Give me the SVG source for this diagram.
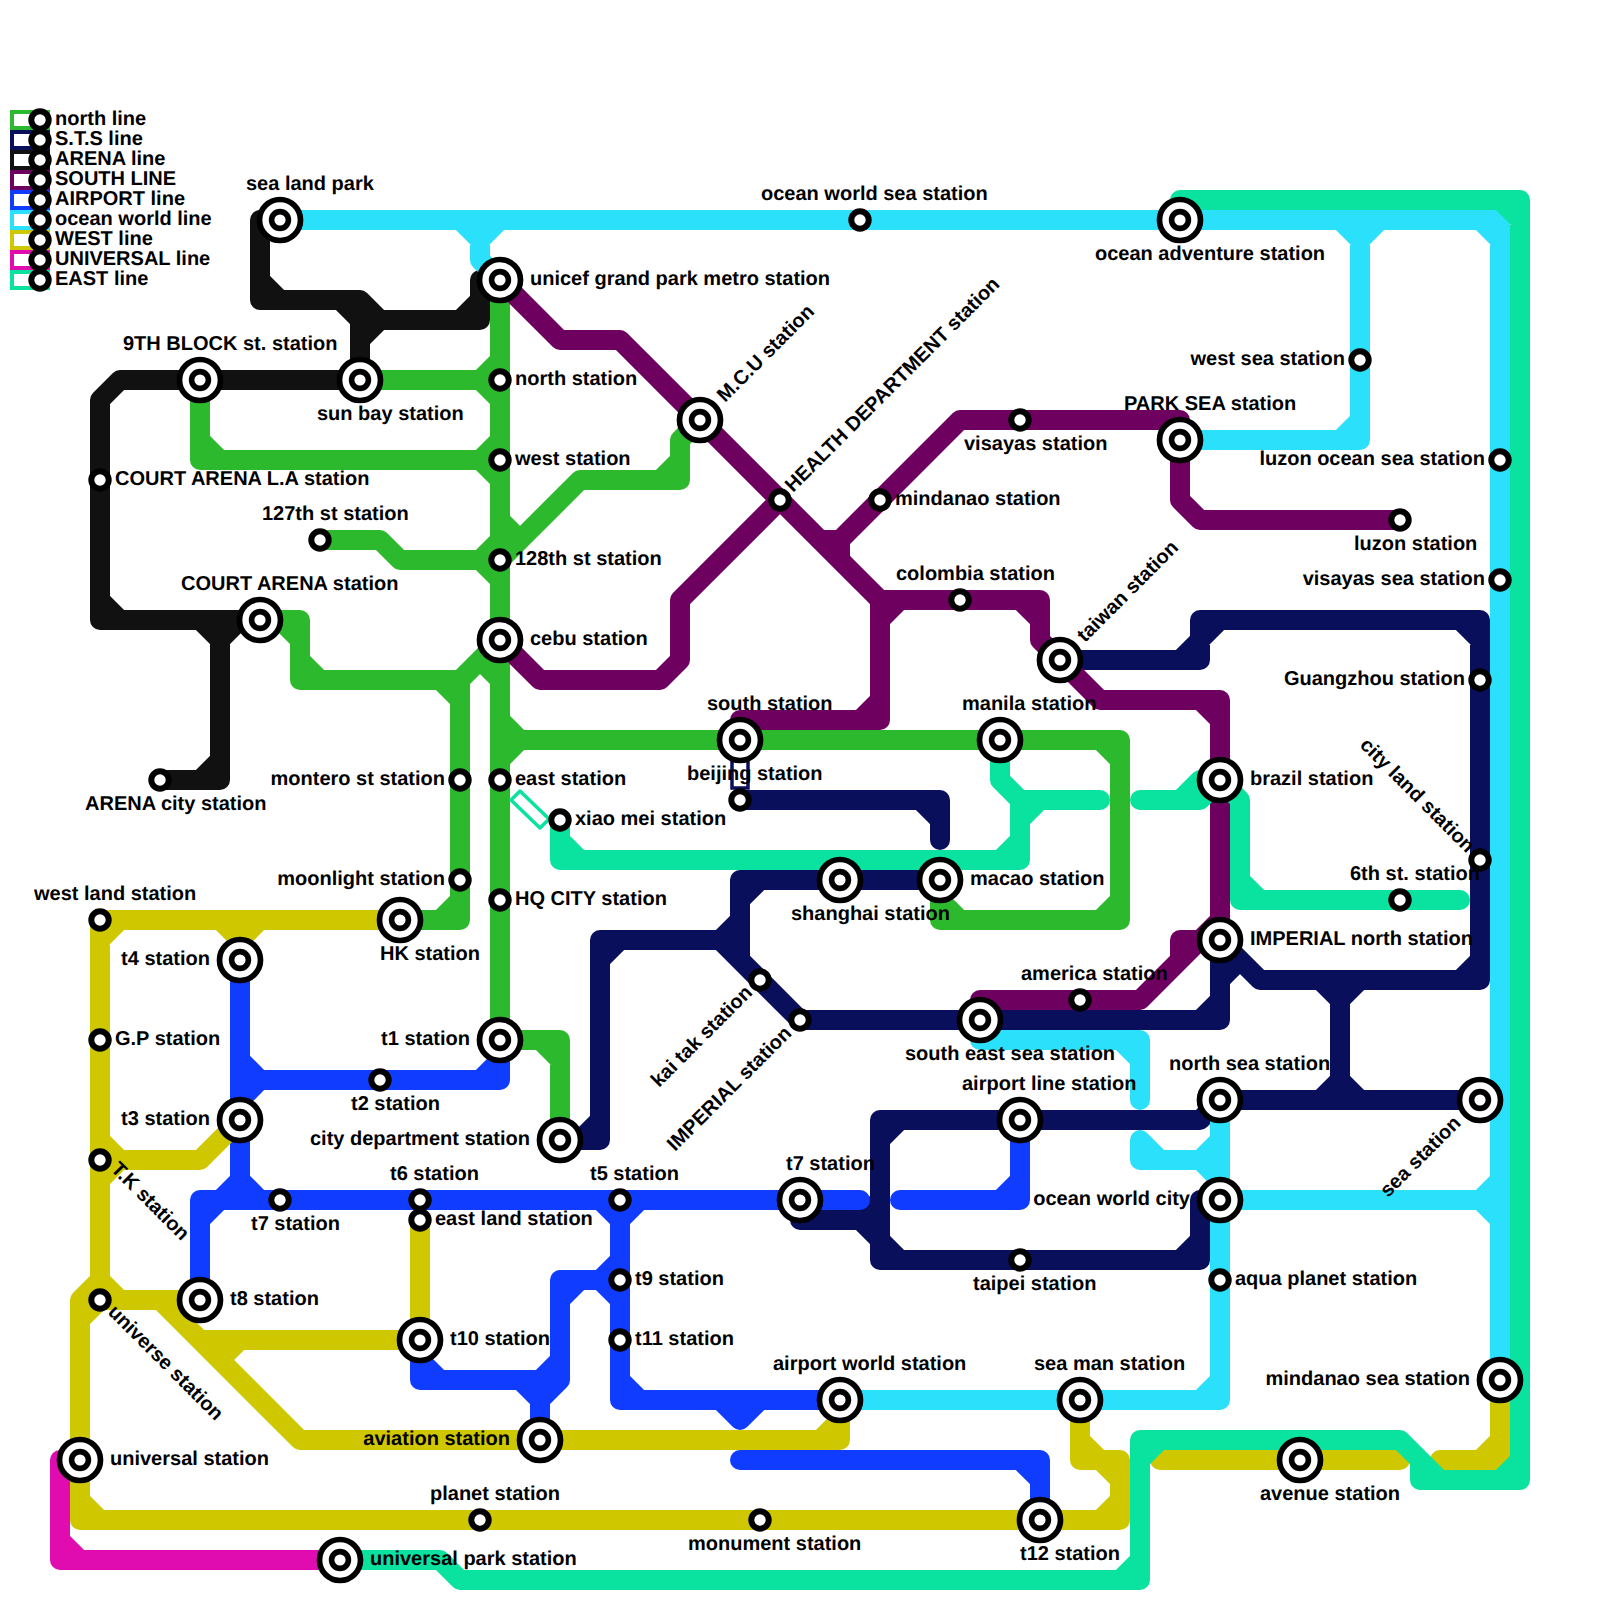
<svg xmlns="http://www.w3.org/2000/svg" width="1600" height="1600" viewBox="0 0 1600 1600">
<style>
.l{fill:none;stroke-width:20;stroke-linecap:round;stroke-linejoin:round}
text{font-family:"Liberation Sans",Arial,sans-serif;font-weight:bold;font-size:20px;fill:#000;text-rendering:geometricPrecision}
.e{text-anchor:end}
.k{fill:#fff;stroke-width:4}
</style>
<defs>
<g id="s"><circle r="8.7" fill="#fff" stroke="#000" stroke-width="6"/></g>
<g id="x"><circle r="20.5" fill="#fff" stroke="#000" stroke-width="5.7"/><circle r="8.4" fill="#fff" stroke="#000" stroke-width="5.6"/></g>
</defs>
<rect width="1600" height="1600" fill="#fff"/>
<g id="legend">
<rect class="k" x="12" y="112" width="36" height="16" stroke="#2db92d"/>
<rect class="k" x="12" y="132" width="36" height="16" stroke="#0a0f5c"/>
<rect class="k" x="12" y="152" width="36" height="16" stroke="#111"/>
<rect class="k" x="12" y="172" width="36" height="16" stroke="#6e0060"/>
<rect class="k" x="12" y="192" width="36" height="16" stroke="#0f3cff"/>
<rect class="k" x="12" y="212" width="36" height="16" stroke="#2ae0fa"/>
<rect class="k" x="12" y="232" width="36" height="16" stroke="#cfc700"/>
<rect class="k" x="12" y="252" width="36" height="16" stroke="#e00cb0"/>
<rect class="k" x="12" y="272" width="36" height="16" stroke="#0ae2a0"/>
<use href="#s" x="40" y="120"/><use href="#s" x="40" y="140"/><use href="#s" x="40" y="160"/><use href="#s" x="40" y="180"/><use href="#s" x="40" y="200"/><use href="#s" x="40" y="220"/><use href="#s" x="40" y="240"/><use href="#s" x="40" y="260"/><use href="#s" x="40" y="280"/>
<text x="55" y="125">north line</text><text x="55" y="145">S.T.S line</text><text x="55" y="165">ARENA line</text><text x="55" y="185">SOUTH LINE</text><text x="55" y="205">AIRPORT line</text><text x="55" y="225">ocean world line</text><text x="55" y="245">WEST line</text><text x="55" y="265">UNIVERSAL line</text><text x="55" y="285">EAST line</text>
</g>
<g id="connectors">
<path id="north-line" class="l" stroke="#2db92d" d="M360 380H480L500 360M480 380L500 400M200 380V460H480L500 440M480 460L500 480M200 440L220 460M320 540H380L400 560H480L500 540M480 560L500 580M500 520L520 540L580 480H680V440L700 420M500 560L520 540M660 480L680 460M500 280V1040H560V1140M540 1040L560 1060M260 620H300V680H460V920H400M280 620L300 640M300 660L320 680M440 920L460 900M460 680L500 640M480 660L500 680M440 680L460 700M500 720L520 740H1120V920H940V880M500 760L520 740M1100 740L1120 760M1120 900L1100 920M940 900L960 920"/>
<path id="sts-line" class="l" stroke="#0a0f5c" d="M1060 660H1200V620H1480V980H1260L1220 940V1020H800L720 940H600V1140H560M1180 660L1200 640M1200 640L1220 620M1460 620L1480 640M1480 960L1460 980M1220 980L1240 960M1200 1020L1220 1000M600 960L620 940M580 1140L600 1120M940 880H740V960M740 900L760 880M740 920L720 940M1340 980V1100M1320 980L1340 1000M1360 980L1340 1000M1340 1080L1320 1100M1340 1080L1360 1100M1220 1100H1480M1220 1100L1200 1120H880V1260H1200V1200H1220M880 1140L900 1120M880 1240L900 1260M1180 1260L1200 1240M800 1200V1220H860L880 1240M860 1220L880 1200M740 800H940V840M920 800L940 820"/>
<rect x="732" y="750" width="16" height="38" fill="#fff" stroke="#0a0f5c" stroke-width="3.5"/>
<path id="arena-line" class="l" stroke="#111" d="M360 380H120L100 400V620H200L220 640V780H160M100 600L120 620M260 620H200M240 620L220 640M220 760L200 780M280 220H260V300H360L380 320H480V280H500M260 280L280 300M340 300L360 320V380M360 340L380 320M460 320L480 300"/>
<path id="south-line" class="l" stroke="#6e0060" d="M500 280L560 340H620L880 600H1040V640L1100 700H1220V940M1020 600L1040 620M1200 700L1220 720M880 620L900 600M880 600V720H740V740M860 720L880 700M500 640L540 680H660L680 660V600L780 500M820 540H840L960 420H1180V500L1200 520H1400M840 540V560M980 1000H1140L1220 920M1180 960V940H1220"/>
<path id="airport-line" class="l" stroke="#0f3cff" d="M240 960V1180L260 1200H860M240 1180L220 1200M200 1300V1200H260M200 1220L220 1200M500 1040V1080H260L240 1060M260 1080L240 1100M480 1080L500 1060M600 1200L620 1220M640 1200L620 1220M620 1200V1400H840M620 1380L640 1400M720 1400L740 1420L760 1400M560 1280H600L620 1260M600 1280L620 1300M560 1280V1380L540 1400V1440M560 1300L580 1280M540 1380L560 1360M420 1340V1380H540M420 1360L440 1380M520 1380L540 1400M740 1460H1040V1520M1020 1460L1040 1480M900 1200H1020V1120M1000 1200L1020 1180"/>
<path id="ocean-line" class="l" stroke="#2ae0fa" d="M280 220H1500V1380M1480 220L1500 240M460 220L480 240L500 220M480 240V260L500 280M1340 220L1360 240L1380 220M1360 240V440H1180M1340 440L1360 420M1220 1200H1500M1480 1200L1500 1180M1480 1200L1500 1220M1220 1100V1400H840M1200 1400L1220 1380M1140 1140V1160H1200L1220 1140M1140 1140L1160 1160M1200 1160L1220 1180M980 1020V1040H1140V1100M1120 1040L1140 1060"/>
<path id="west-line" class="l" stroke="#cfc700" d="M400 920H100V1280L80 1300V1520H1120V1460H1080V1400M100 940L120 920M220 920L240 940L260 920M240 940V960M100 1140L120 1160H200L240 1120M100 1180L120 1160M100 1280L120 1300M100 1300L80 1320M100 1300H200M160 1300L300 1440H840V1400M200 1340H420M220 1360L240 1340M820 1440L840 1420M420 1220V1340M80 1500L100 1520M1120 1500L1100 1520M1080 1440L1100 1460M1100 1460L1120 1480M1160 1460H1400M1500 1380V1460H1440M1480 1460L1500 1440"/>
<path id="universal-line" class="l" stroke="#e00cb0" d="M80 1460H60V1560H340M60 1540L80 1560"/>
<path id="east-line" class="l" stroke="#0ae2a0" d="M1180 220V200H1520V1480H1420V1460L1400 1440H1140V1580H460L440 1560H340M1500 200L1520 220M1500 1480L1520 1460M1420 1460L1440 1480M1140 1460L1160 1440M1120 1580L1140 1560M1000 740V780L1020 800H1100M1020 800V860H560V820M1000 860L1020 840M1020 820L1040 800M560 840L580 860M1220 780L1200 800H1140M1180 800L1200 780H1220M1220 780L1240 800V900H1460M1240 880L1260 900"/>
<path id="east-tunnel" d="M511 800L520 791L549 819L540 828Z" fill="#fff" stroke="#0ae2a0" stroke-width="3.5" stroke-linejoin="round"/>
</g>
<g id="n1"><use href="#x" x="280" y="220"/><text x="246" y="190">sea land park</text></g>
<g id="n2"><use href="#s" x="860" y="220"/><text x="761" y="200">ocean world sea station</text></g>
<g id="n3"><use href="#x" x="1180" y="220"/><text x="1095" y="260">ocean adventure station</text></g>
<g id="n4"><use href="#x" x="500" y="280"/><text x="530" y="285">unicef grand park metro station</text></g>
<g id="n5"><use href="#x" x="200" y="380"/><text x="123" y="350">9TH BLOCK st. station</text></g>
<g id="n6"><use href="#x" x="360" y="380"/><text x="317" y="420">sun bay station</text></g>
<g id="n7"><use href="#s" x="500" y="380"/><text x="515" y="385">north station</text></g>
<g id="n8"><use href="#s" x="500" y="460"/><text x="515" y="465">west station</text></g>
<g id="n9"><use href="#s" x="500" y="560"/><text x="515" y="565">128th st station</text></g>
<g id="n10"><use href="#x" x="500" y="640"/><text x="530" y="645">cebu station</text></g>
<g id="n11"><use href="#s" x="320" y="540"/><text x="262" y="520">127th st station</text></g>
<g id="n12"><use href="#s" x="100" y="480"/><text x="115" y="485">COURT ARENA L.A station</text></g>
<g id="n13"><use href="#x" x="260" y="620"/><text x="181" y="590">COURT ARENA station</text></g>
<g id="n14"><use href="#s" x="160" y="780"/><text x="85" y="810">ARENA city station</text></g>
<g id="n15"><use href="#x" x="700" y="420"/><text transform="translate(725 403) rotate(-45)">M.C.U station</text></g>
<g id="n16"><use href="#s" x="780" y="500"/><text transform="translate(793 493) rotate(-45)">HEALTH DEPARTMENT station</text></g>
<g id="n17"><use href="#s" x="880" y="500"/><text x="895" y="505">mindanao station</text></g>
<g id="n18"><use href="#s" x="1020" y="420"/><text x="964" y="450">visayas station</text></g>
<g id="n19"><use href="#x" x="1180" y="440"/><text x="1124" y="410">PARK SEA station</text></g>
<g id="n20"><use href="#s" x="1400" y="520"/><text x="1354" y="550">luzon station</text></g>
<g id="n21"><use href="#s" x="1360" y="360"/><text class="e" x="1345" y="365">west sea station</text></g>
<g id="n22"><use href="#s" x="1500" y="460"/><text class="e" x="1485" y="465">luzon ocean sea station</text></g>
<g id="n23"><use href="#s" x="1500" y="580"/><text class="e" x="1485" y="585">visayas sea station</text></g>
<g id="n24"><use href="#s" x="960" y="600"/><text x="896" y="580">colombia station</text></g>
<g id="n25"><use href="#x" x="1060" y="660"/><text transform="translate(1085 643) rotate(-45)">taiwan station</text></g>
<g id="n26"><use href="#x" x="740" y="740"/><text x="707" y="710">south station</text></g>
<g id="n27"><use href="#x" x="1000" y="740"/><text x="962" y="710">manila station</text></g>
<g id="n28"><use href="#x" x="1220" y="780"/><text x="1250" y="785">brazil station</text></g>
<g id="n29"><use href="#s" x="1480" y="680"/><text class="e" x="1465" y="685">Guangzhou station</text></g>
<g id="n30"><use href="#s" x="1480" y="860"/><text transform="translate(1359 746) rotate(45)">city land station</text></g>
<g id="n31"><use href="#s" x="1400" y="900"/><text x="1350" y="880">6th st. station</text></g>
<g id="n32"><use href="#x" x="1220" y="940"/><text x="1250" y="945">IMPERIAL north station</text></g>
<g id="n33"><use href="#s" x="1080" y="1000"/><text x="1021" y="980">america station</text></g>
<g id="n34"><use href="#x" x="980" y="1020"/><text x="905" y="1060">south east sea station</text></g>
<g id="n35"><use href="#x" x="1220" y="1100"/><text x="1169" y="1070">north sea station</text></g>
<g id="n36"><use href="#x" x="1480" y="1100"/><text transform="translate(1388 1198) rotate(-45)">sea station</text></g>
<g id="n37"><use href="#x" x="1020" y="1120"/><text x="962" y="1090">airport line station</text></g>
<g id="n38"><use href="#x" x="1220" y="1200"/><text class="e" x="1190" y="1205">ocean world city</text></g>
<g id="n39"><use href="#s" x="1020" y="1260"/><text x="973" y="1290">taipei station</text></g>
<g id="n40"><use href="#s" x="1220" y="1280"/><text x="1235" y="1285">aqua planet station</text></g>
<g id="n41"><use href="#x" x="800" y="1200"/><text x="786" y="1170">t7 station</text></g>
<g id="n42"><use href="#x" x="1500" y="1380"/><text class="e" x="1470" y="1385">mindanao sea station</text></g>
<g id="n43"><use href="#x" x="1300" y="1460"/><text x="1260" y="1500">avenue station</text></g>
<g id="n44"><use href="#x" x="1080" y="1400"/><text x="1034" y="1370">sea man station</text></g>
<g id="n45"><use href="#x" x="840" y="1400"/><text x="773" y="1370">airport world station</text></g>
<g id="n46"><use href="#x" x="1040" y="1520"/><text x="1020" y="1560">t12 station</text></g>
<g id="n47"><use href="#s" x="760" y="1520"/><text x="688" y="1550">monument station</text></g>
<g id="n48"><use href="#s" x="480" y="1520"/><text x="430" y="1500">planet station</text></g>
<g id="n49"><use href="#x" x="340" y="1560"/><text x="370" y="1565">universal park station</text></g>
<g id="n50"><use href="#x" x="80" y="1460"/><text x="110" y="1465">universal station</text></g>
<g id="n51"><use href="#x" x="540" y="1440"/><text class="e" x="510" y="1445">aviation station</text></g>
<g id="n52"><use href="#x" x="420" y="1340"/><text x="450" y="1345">t10 station</text></g>
<g id="n53"><use href="#s" x="620" y="1340"/><text x="635" y="1345">t11 station</text></g>
<g id="n54"><use href="#s" x="620" y="1280"/><text x="635" y="1285">t9 station</text></g>
<g id="n55"><use href="#s" x="620" y="1200"/><text x="590" y="1180">t5 station</text></g>
<g id="n56"><use href="#s" x="420" y="1200"/><text x="390" y="1180">t6 station</text></g>
<g id="n57"><use href="#s" x="420" y="1220"/><text x="435" y="1225">east land station</text></g>
<g id="n58"><use href="#s" x="280" y="1200"/><text x="251" y="1230">t7 station</text></g>
<g id="n59"><use href="#x" x="200" y="1300"/><text x="230" y="1305">t8 station</text></g>
<g id="n60"><use href="#x" x="240" y="1120"/><text class="e" x="210" y="1125">t3 station</text></g>
<g id="n61"><use href="#s" x="380" y="1080"/><text x="351" y="1110">t2 station</text></g>
<g id="n62"><use href="#x" x="500" y="1040"/><text class="e" x="470" y="1045">t1 station</text></g>
<g id="n63"><use href="#x" x="240" y="960"/><text class="e" x="210" y="965">t4 station</text></g>
<g id="n64"><use href="#s" x="100" y="920"/><text x="34" y="900">west land station</text></g>
<g id="n65"><use href="#s" x="100" y="1040"/><text x="115" y="1045">G.P station</text></g>
<g id="n66"><use href="#s" x="100" y="1160"/><text transform="translate(110 1170) rotate(45)">T.K station</text></g>
<g id="n67"><use href="#s" x="100" y="1300"/><text transform="translate(107 1313) rotate(45)">universe station</text></g>
<g id="n68"><use href="#x" x="400" y="920"/><text x="380" y="960">HK station</text></g>
<g id="n69"><use href="#s" x="460" y="880"/><text class="e" x="445" y="885">moonlight station</text></g>
<g id="n70"><use href="#s" x="460" y="780"/><text class="e" x="445" y="785">montero st station</text></g>
<g id="n71"><use href="#s" x="500" y="780"/><text x="515" y="785">east station</text></g>
<g id="n72"><use href="#s" x="500" y="900"/><text x="515" y="905">HQ CITY station</text></g>
<g id="n73"><use href="#s" x="560" y="820"/><text x="575" y="825">xiao mei station</text></g>
<g id="n74"><use href="#s" x="740" y="800"/><text x="687" y="780">beijing station</text></g>
<g id="n75"><use href="#x" x="840" y="880"/><text x="791" y="920">shanghai station</text></g>
<g id="n76"><use href="#x" x="940" y="880"/><text x="970" y="885">macao station</text></g>
<g id="n77"><use href="#x" x="560" y="1140"/><text class="e" x="530" y="1145">city department station</text></g>
<g id="n78"><use href="#s" x="760" y="980"/><text transform="translate(659 1088) rotate(-45)">kai tak station</text></g>
<g id="n79"><use href="#s" x="800" y="1020"/><text transform="translate(675 1152) rotate(-45)">IMPERIAL station</text></g>
</svg>
